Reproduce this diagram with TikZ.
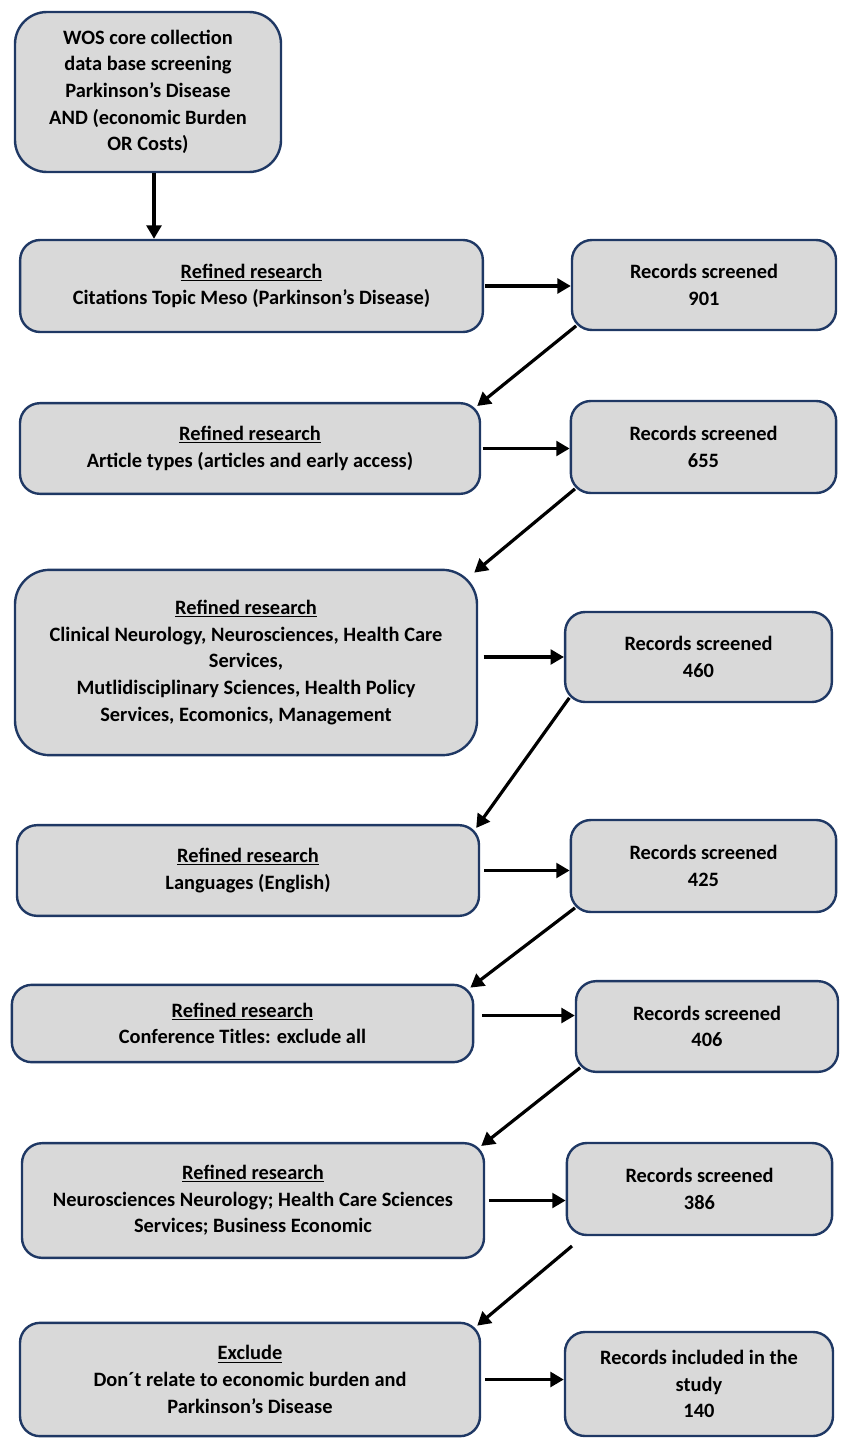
\documentclass[tikz,border=0pt]{standalone}
\usepackage{fontspec}
\setmainfont{Carlito}
\usepackage{xcolor}
\usepackage{tikz}
\usetikzlibrary{arrows.meta,positioning}
\definecolor{boxline}{RGB}{31,56,100}
\definecolor{boxfill}{RGB}{217,217,217}
\newcommand{\btitle}[1]{\underline{#1}}

\begin{document}
\begin{tikzpicture}[
      x=0.75pt, y=-0.75pt,
      refbox/.style={rounded corners=15pt, draw=boxline, line width=1.8pt, fill=boxfill, align=center,
        minimum width=346.5pt, minimum height=68pt, font=\bfseries\fontsize{15.3}{20}\selectfont},
      recbox/.style={refbox, minimum width=199pt, minimum height=69pt},
      arr/.style={-{Triangle[length=10pt,width=11pt]}, line width=2.4pt, draw=black},
      bk/.style={xshift=4pt, yshift=4pt},
      tip/.style={xshift=-3pt, yshift=-3pt}
    ]
      \useasboundingbox (0,0) rectangle (840,1438);

      \node[refbox, rounded corners=24pt, minimum width=199.5pt, minimum height=120pt] (wos) at (148,92)
        {WOS core collection\\data base screening\\ Parkinson’s Disease\\AND (economic Burden\\OR Costs)};

      \node[refbox, minimum width=347pt, minimum height=69pt] (r1) at (251.5,286)
        {\btitle{Refined research}\\Citations Topic Meso (Parkinson’s Disease)};
      \node[recbox, minimum width=198pt, minimum height=67.5pt] (n901) at (704,285) {Records screened\\901};

      \node[refbox, minimum width=345pt] (r2) at (250,448.5)
        {\btitle{Refined research}\\Article types (articles and early access)};
      \node[recbox] (n655) at (703.5,447) {Records screened\\655};

      \node[refbox, rounded corners=26pt, minimum height=139pt] (r3) at (246,662.5)
        {\btitle{Refined research}\\Clinical Neurology, Neurosciences, Health Care\\Services,\\Mutlidisciplinary Sciences, Health Policy\\Services, Ecomonics, Management};
      \node[recbox, minimum width=200pt, minimum height=67.5pt] (n460) at (698.5,657) {Records screened\\460};

      \node[refbox] (r4) at (248,870.5)
        {\btitle{Refined research}\\Languages (English)};
      \node[recbox] (n425) at (703.5,866) {Records screened\\425};

      \node[refbox, minimum width=346pt, minimum height=58pt] (r5) at (242.5,1023.5)
        {\btitle{Refined research}\\Conference Titles: exclude all};
      \node[recbox, minimum width=196.5pt, minimum height=68pt] (n406) at (707,1026.5) {Records screened\\406};

      \node[refbox, minimum height=86pt] (r6) at (253,1200.5)
        {\btitle{Refined research}\\Neurosciences Neurology; Health Care Sciences\\Services; Business Economic};
      \node[recbox] (n386) at (699.5,1189) {Records screened\\386};

      \node[refbox, minimum width=345pt, minimum height=85pt] (ex) at (250,1379.5)
        {\btitle{Exclude}\\Don´t relate to economic burden and\\Parkinson’s Disease};
      \node[recbox, minimum width=201pt, minimum height=78pt] (n140) at (699,1384) {Records included in the\\study\\140};

      \coordinate (c386) at (572,1246);

      % down the left column
      \draw[arr] ([xshift=4.5pt]wos.south) -- ([xshift=4.5pt]wos.south |- r1.north);

      % across to the counts
      \draw[arr, shorten <=1pt] (r1.east) -- (r1.east -| n901.west);
      \draw[arr, shorten <=1pt] (r2.east) -- (r2.east -| n655.west);
      \draw[arr, shorten <=4pt] (n460.west -| r3.east) -- (n460.west);
      \draw[arr, shorten <=3pt] (r4.east) -- (r4.east -| n425.west);
      \draw[arr, shorten <=6pt] ([yshift=6pt]r5.east) -- ([yshift=6pt]r5.east -| n406.west);
      \draw[arr, shorten <=3pt] (r6.east) -- (r6.east -| n386.west);
      \draw[arr, shorten <=3pt] (ex.east) -- (ex.east -| n140.west);

      % back to the next step
      \draw[arr] ([bk]n901.south west) -- ([tip]r2.north east);
      \draw[arr] ([bk]n655.south west) -- ([tip]r3.north east);
      \draw[arr] ([bk]n460.south west) -- ([tip]r4.north east);
      \draw[arr] ([bk]n425.south west) -- ([tip]r5.north east);
      \draw[arr] ([bk]n406.south west) -- ([tip]r6.north east);
      \draw[arr] (c386) -- ([tip]ex.north east);
    \end{tikzpicture}
\end{document}
